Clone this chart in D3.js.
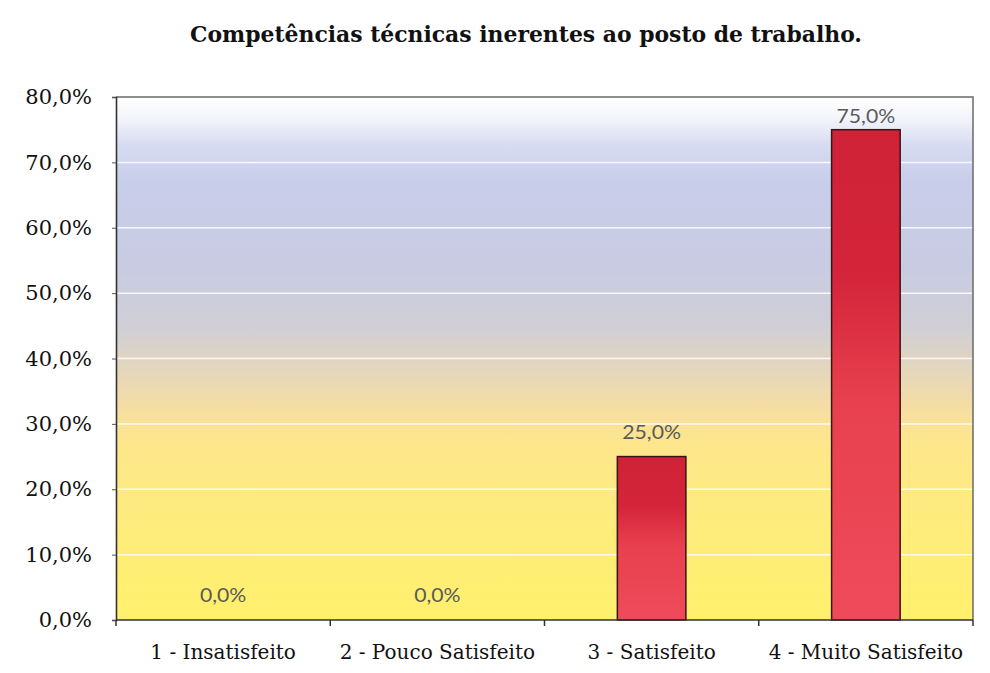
<!DOCTYPE html>
<html>
<head>
<meta charset="utf-8">
<script src="https://cdn.jsdelivr.net/npm/d3@7"></script>
<style>
  html, body { margin: 0; padding: 0; background: #ffffff; }
  svg { display: block; }
</style>
</head>
<body>
<svg id="chart" width="990" height="673"></svg>
<script>
const titleText = "Competências técnicas inerentes ao posto de trabalho.";
const categories = ["1 - Insatisfeito", "2 - Pouco Satisfeito", "3 - Satisfeito", "4 - Muito Satisfeito"];
const values = [0.0, 0.0, 0.25, 0.75];
const yTicks = [0, 0.1, 0.2, 0.3, 0.4, 0.5, 0.6, 0.7, 0.8];

const W = 990, H = 673;
const margin = { top: 97, right: 17, bottom: 53, left: 116 };
const svg = d3.select("#chart");

const locale = d3.formatLocale({ decimal: ",", thousands: ".", grouping: [3], currency: ["", "€"], percent: "%" });
const fmt = locale.format(".1%");

const x = d3.scaleBand().domain(categories).range([margin.left, W - margin.right]).paddingInner(0.68).paddingOuter(0.34);
const xb = d3.scaleBand().domain(categories).range([margin.left, W - margin.right]);
const y = d3.scaleLinear().domain([0, 0.8]).range([H - margin.bottom, margin.top]);

const defs = svg.append("defs");
const bg = defs.append("linearGradient").attr("id", "bg").attr("x1", 0).attr("y1", 0).attr("x2", 0).attr("y2", 1);
[[0, "#ffffff"], [0.04, "#f4f5fb"], [0.09, "#d8dcf1"], [0.16, "#c8cdea"], [0.32, "#c8cbe2"], [0.44, "#d0cfd6"], [0.52, "#e4d6bd"], [0.6, "#f6dea0"], [0.66, "#fde68c"], [0.8, "#feeb7e"], [1, "#fff06c"]]
  .forEach(([o, c]) => bg.append("stop").attr("offset", o).attr("stop-color", c));

const bar = defs.append("linearGradient").attr("id", "bar").attr("x1", 0).attr("y1", 0).attr("x2", 0).attr("y2", 1);
[[0, "#cf2236"], [0.3, "#d4253a"], [0.55, "#e8404e"], [1, "#ee4b5a"]]
  .forEach(([o, c]) => bar.append("stop").attr("offset", o).attr("stop-color", c));

// plot background
svg.append("rect")
  .attr("x", margin.left).attr("y", margin.top)
  .attr("width", W - margin.left - margin.right)
  .attr("height", H - margin.top - margin.bottom)
  .attr("fill", "url(#bg)");

// gridlines
svg.append("g").selectAll("line").data(yTicks.slice(1, -1)).join("line")
  .attr("x1", margin.left).attr("x2", W - margin.right)
  .attr("y1", d => y(d)).attr("y2", d => y(d))
  .attr("stroke", "#ffffff").attr("stroke-opacity", 0.85).attr("stroke-width", 1.5);

// plot border (top/right)
svg.append("path")
  .attr("d", `M${margin.left},${margin.top}H${W - margin.right}V${H - margin.bottom}`)
  .attr("fill", "none").attr("stroke", "#6a6a6a").attr("stroke-width", 1.5);

// bars
svg.append("g").selectAll("rect").data(values).join("rect")
  .attr("x", (d, i) => x(categories[i]))
  .attr("width", x.bandwidth())
  .attr("y", d => y(d))
  .attr("height", d => y(0) - y(d))
  .attr("fill", "url(#bar)")
  .attr("stroke", d => d > 0 ? "#3a1414" : "none")
  .attr("stroke-width", 1.5);

// data labels
svg.append("g").selectAll("text").data(values).join("text")
  .attr("x", (d, i) => x(categories[i]) + x.bandwidth() / 2)
  .attr("y", d => Math.max(y(d) - 18, margin.top + 26))
  .attr("text-anchor", "middle")
  .attr("font-family", "Lato, 'Open Sans', sans-serif")
  .attr("font-size", 20)
  .attr("fill", "#5a5a5a")
  .text(d => fmt(d))
  .each(function () { const l = this.getComputedTextLength(); d3.select(this).attr("textLength", l * 1.06).attr("lengthAdjust", "spacingAndGlyphs"); });

// y axis
const yAxis = svg.append("g").attr("transform", `translate(${margin.left},0)`)
  .call(d3.axisLeft(y).tickValues(yTicks).tickFormat(fmt).tickSize(4).tickPadding(20));
yAxis.select(".domain").attr("stroke", "#333").attr("stroke-width", 1.6);
yAxis.selectAll(".tick line").attr("stroke", "#555");
yAxis.selectAll(".tick text")
  .attr("font-family", "'DejaVu Serif', serif")
  .attr("font-size", 21)
  .attr("fill", "#111");

// x axis
const xAxis = svg.append("g").attr("transform", `translate(0,${H - margin.bottom})`);
xAxis.append("line").attr("x1", margin.left).attr("x2", W - margin.right)
  .attr("stroke", "#333").attr("stroke-width", 1.6);
xAxis.selectAll(".xt").data(categories.map(c => xb(c)).concat([xb.range()[1]])).join("line")
  .attr("class", "xt")
  .attr("x1", d => d).attr("x2", d => d).attr("y1", 0).attr("y2", 6)
  .attr("stroke", "#333").attr("stroke-width", 1.5);
xAxis.selectAll("text").data(categories).join("text")
  .attr("x", c => xb(c) + xb.bandwidth() / 2)
  .attr("y", 39)
  .attr("text-anchor", "middle")
  .attr("font-family", "'DejaVu Serif', serif")
  .attr("font-size", 20)
  .attr("fill", "#111")
  .text(c => c);

// title
svg.append("text")
  .attr("x", 526).attr("y", 42)
  .attr("text-anchor", "middle")
  .attr("font-family", "'DejaVu Serif', serif")
  .attr("font-weight", "bold")
  .attr("font-size", 23)
  .attr("fill", "#111")
  .attr("textLength", 672).attr("lengthAdjust", "spacingAndGlyphs")
  .text(titleText);
</script>
</body>
</html>
